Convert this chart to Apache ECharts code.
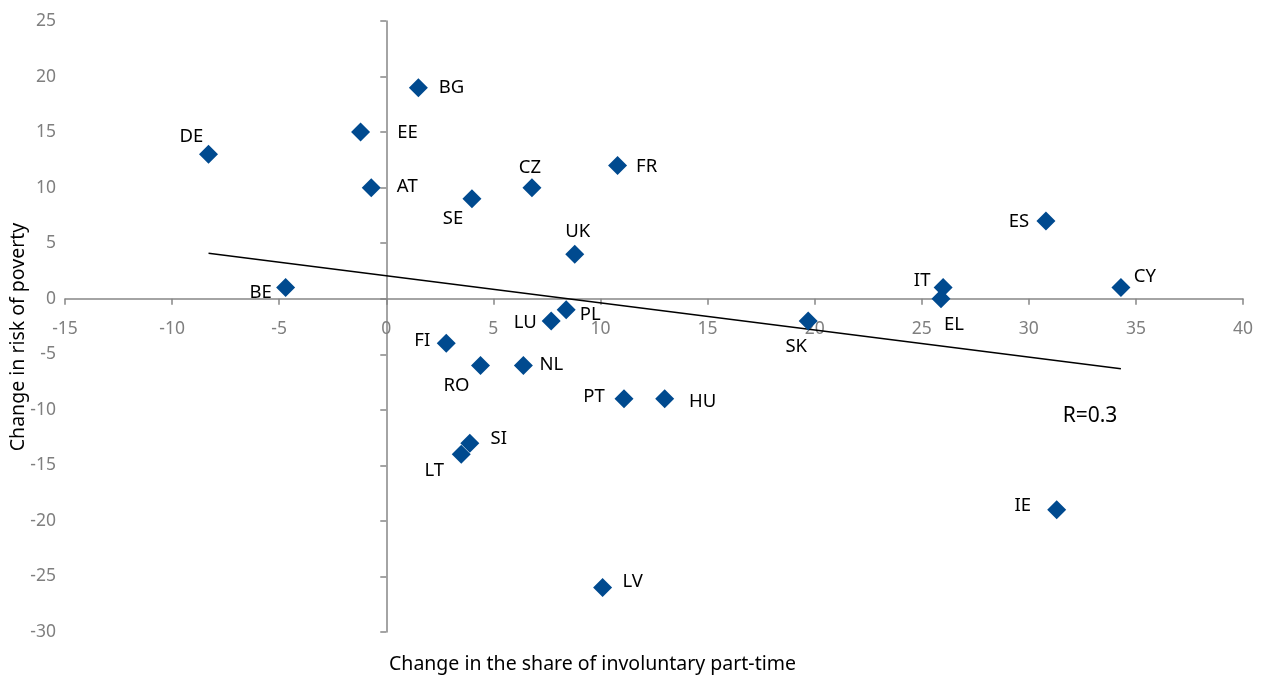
<!DOCTYPE html>
<html>
<head>
<meta charset="utf-8">
<script src="https://cdn.jsdelivr.net/npm/echarts@6/dist/echarts.min.js"></script>
<style>
html,body{margin:0;padding:0;background:#fff;}
#chart{width:1268px;height:675px;}
</style>
</head>
<body>
<div id="chart"></div>
<script>
// Data
var countries = ['DE','BG','EE','AT','SE','CZ','FR','UK','BE','LU','PL','FI','RO','NL','PT','HU','SI','LT','LV','SK','IT','EL','ES','CY','IE'];
var partTimeChange = [-8.3, 1.5, -1.2, -0.7, 4.0, 6.8, 10.8, 8.8, -4.7, 7.7, 8.4, 2.8, 4.4, 6.4, 11.1, 13.0, 3.9, 3.5, 10.1, 19.7, 26.0, 25.9, 30.8, 34.3, 31.3];
var povertyChange = [13, 19, 15, 10, 9, 10, 12, 4, 1, -2, -1, -4, -6, -6, -9, -9, -13, -14, -26, -2, 1, 0, 7, 1, -19];
var trendX = [-8.3, 34.3];
var trendY = [4.1, -6.3];
var xTicks = {min: -15, max: 40, interval: 5};
var yTicks = {min: -30, max: 25, interval: 5};
var rText = 'R=0.3';

// Label offsets (layout only)
var labelOffsets = {
  DE:[-17,-18], BG:[33,0], EE:[47,1], AT:[36,-1], SE:[-19,20], CZ:[-2,-20], FR:[29,1],
  UK:[3,-23], BE:[-25,5], LU:[-26,2], PL:[24,5], FI:[-24,-2], RO:[-24,20], NL:[28,-1],
  PT:[-30,-2], HU:[38,3], SI:[29,-4], LT:[-27,16], LV:[30,-6], SK:[-12,26], IT:[-21,-7],
  EL:[13,26], ES:[-27,1], CY:[24,-11], IE:[-34,-4]
};

var FONT = '"Noto Sans", "Liberation Sans", sans-serif';
var GRID = {left: 65, right: 25, top: 21, bottom: 43};
var gridH = 675 - GRID.top - GRID.bottom;
// place x axis at y = 0 (offset inward from bottom)
var xAxisOffset = -(0 - yTicks.min) / (yTicks.max - yTicks.min) * gridH;

var pts = countries.map(function(c, i){
  return {name: c, value: [partTimeChange[i], povertyChange[i]], label: {offset: labelOffsets[c]}};
});
var trend = trendX.map(function(x, i){ return [x, trendY[i]]; });

var chart = echarts.init(document.getElementById('chart'));
chart.setOption({
  animation: false,
  grid: GRID,
  xAxis: {
    type: 'value', min: xTicks.min, max: xTicks.max, interval: xTicks.interval,
    position: 'bottom', offset: xAxisOffset,
    splitLine: {show: false},
    axisLine: {onZero: false, lineStyle: {color: '#868686', width: 1.5}},
    axisTick: {length: 6, lineStyle: {color: '#868686', width: 1.5}},
    axisLabel: {color: '#7f7f7f', fontSize: 17.5, fontFamily: FONT, margin: 21}
  },
  yAxis: {
    type: 'value', min: yTicks.min, max: yTicks.max, interval: yTicks.interval,
    splitLine: {show: false},
    axisLine: {onZero: true, lineStyle: {color: '#868686', width: 1.5}},
    axisTick: {length: 6, lineStyle: {color: '#868686', width: 1.5}},
    axisLabel: {color: '#7f7f7f', fontSize: 17.5, fontFamily: FONT, margin: 9}
  },
  graphic: [
    {type: 'text', x: 389, y: 664, style: {text: 'Change in the share of involuntary part-time', fill: '#000', font: '19.5px ' + FONT, verticalAlign: 'middle'}},
    {type: 'text', x: 18, y: 337, rotation: Math.PI/2, style: {text: 'Change in risk of poverty', fill: '#000', font: '19.5px ' + FONT, align: 'center', verticalAlign: 'middle'}},
    {type: 'text', x: 1090, y: 416, style: {text: rText, fill: '#000', font: '21px ' + FONT, align: 'center', verticalAlign: 'middle'}}
  ],
  series: [
    {
      type: 'line', data: trend, symbol: 'none', silent: true,
      lineStyle: {color: '#000', width: 1.5}, z: 1
    },
    {
      type: 'scatter', data: pts, symbol: 'diamond', symbolSize: 19, z: 3,
      itemStyle: {color: '#004A8F', opacity: 1},
      label: {show: true, position: 'inside', formatter: '{b}', color: '#000', fontSize: 18.5, fontFamily: FONT, align: 'center', verticalAlign: 'middle'}
    }
  ]
});
</script>
</body>
</html>
